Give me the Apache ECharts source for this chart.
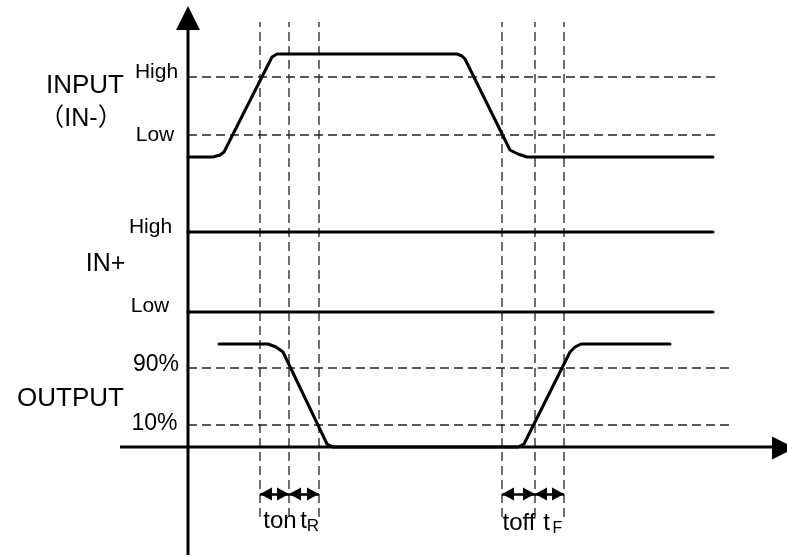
<!DOCTYPE html>
<html><head><meta charset="utf-8">
<script src="https://cdn.jsdelivr.net/npm/echarts@6/dist/echarts.min.js"></script>
<style>html,body{margin:0;padding:0;background:#fff}#c{width:787px;height:557px}</style>
</head><body><div id="c"></div>
<script>
// ---- timing data (time units from the vertical axis, level units above the time axis) ----
const markerTimes = [72, 101, 131, 314, 347, 376];
const inputThresholds = [370, 312];      // High, Low of INPUT (IN-)
const outputThresholds = [79, 22];       // 90%, 10% of OUTPUT
const inMinusWave = [[0,290],[25,290],[32,292],[36,295],[84,390],[89,393],[269,393],[274,391],[277,388],[322,297],[330,293],[339,290],[525,290]];
const inPlusHigh = [[0,215],[525,215]];
const inPlusLow = [[0,135],[525,135]];
const outputWave = [[31,103],[80,103],[88,100],[95,95],[139,3],[145,0],[330,0],[336,3],[382,95],[387,100],[393,103],[482,103]];
const spanPairs = [[72,101],[101,131],[314,347],[347,376]];
const spanLevel = -47;
const inputThresholdEnd = 531;
const outputThresholdEnd = 545;
const markerTop = 425, markerBottom = -70;
// text annotations: [text, time, level, fontSize]
const annotations = [
  ['INPUT', -103, 361, 26],
  ['（IN-）', -107, 328, 25],
  ['High', -31.5, 374.5, 21],
  ['Low', -33, 311.5, 21],
  ['High', -37.5, 219.5, 21],
  ['IN+', -82.5, 183, 25],
  ['Low', -38, 140.5, 21],
  ['90%', -32, 82, 23],
  ['OUTPUT', -117.5, 48, 26],
  ['10%', -33.5, 23.5, 23],
  ['ton', 92, -74, 24],
  ['t', 115.5, -74, 24],
  ['R', 125, -79.5, 17],
  ['toff', 331, -76, 24],
  ['t', 358.5, -76, 24],
  ['F', 369.5, -81.5, 16]
];
// axes
const timeAxisLine = [[-68,0],[587,0]];
const levelAxisLine = [[0,-108],[0,422]];
const timeArrow = [595.5, -1];
const levelArrow = [0, 429];

const FONT = '"Liberation Sans", Arial, "Noto Sans CJK SC", sans-serif';
const dashStyle = {color:'#222', width:1.3, type:[9,5]};
const series = [];
markerTimes.forEach(t => series.push({type:'line', data:[[t,markerBottom],[t,markerTop]], symbol:'none', silent:true, lineStyle:dashStyle}));
inputThresholds.forEach(v => series.push({type:'line', data:[[0,v],[inputThresholdEnd,v]], symbol:'none', silent:true, lineStyle:dashStyle}));
outputThresholds.forEach(v => series.push({type:'line', data:[[0,v],[outputThresholdEnd,v]], symbol:'none', silent:true, lineStyle:dashStyle}));
const solid = {color:'#000', width:3, cap:'round', join:'round'};
[inMinusWave, inPlusHigh, inPlusLow, outputWave].forEach(d => series.push({type:'line', data:d, symbol:'none', silent:true, lineStyle:solid}));
series.push({type:'line', data:timeAxisLine, symbol:'none', silent:true, lineStyle:{color:'#000', width:3}});
series.push({type:'line', data:levelAxisLine, symbol:'none', silent:true, lineStyle:{color:'#000', width:3}});
series.push({type:'scatter', silent:true, symbol:'triangle', symbolSize:[24,24], itemStyle:{color:'#000', opacity:1}, data:[levelArrow]});
series.push({type:'scatter', silent:true, symbol:'triangle', symbolSize:[23,23], symbolRotate:-90, itemStyle:{color:'#000', opacity:1}, data:[timeArrow]});
series.push({type:'line', data:[], symbol:'none', silent:true,
  markLine:{silent:true, symbol:['triangle','triangle'], symbolSize:[13,12], symbolOffset:[[0,6],[0,6]], label:{show:false},
    lineStyle:{color:'#000', width:2.5, type:'solid', opacity:1},
    data: spanPairs.map(p => [{coord:[p[0], spanLevel]}, {coord:[p[1], spanLevel]}])}});
series.push({type:'scatter', silent:true, symbolSize:0, itemStyle:{opacity:1},
  data: annotations.map(a => ({value:[a[1], a[2]], label:{show:true, position:'inside', formatter:a[0], fontSize:a[3], color:'#000', opacity:1, fontFamily:FONT, align:'center', verticalAlign:'middle'}}))});

const chart = echarts.init(document.getElementById('c'), null, {renderer:'canvas'});
chart.setOption({
  animation:false,
  backgroundColor:'#fff',
  grid:{left:0, right:0, top:0, bottom:0},
  xAxis:{type:'value', min:-188, max:599, show:false},
  yAxis:{type:'value', min:-110, max:447, show:false},
  series
});
</script></body></html>
